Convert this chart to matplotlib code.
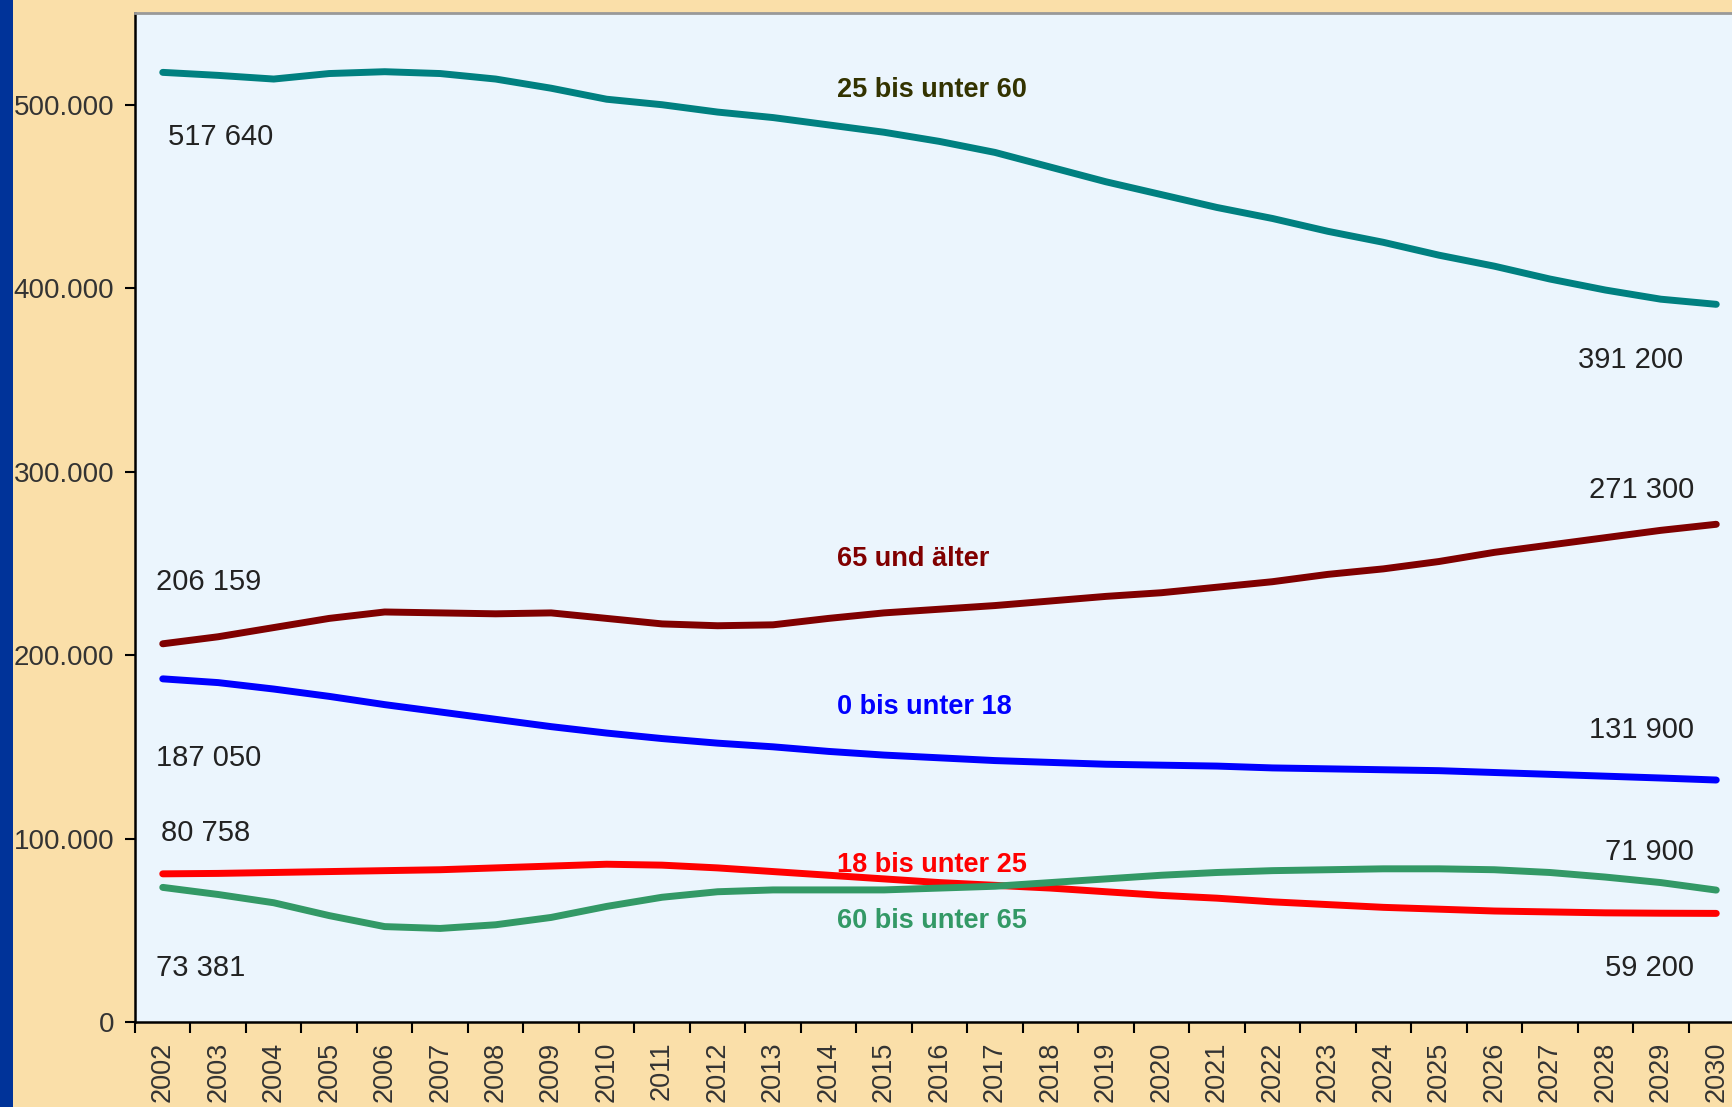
import matplotlib
matplotlib.use("Agg")
import matplotlib.pyplot as plt
from matplotlib.patches import Rectangle
from matplotlib.ticker import FixedLocator, FuncFormatter

plt.rcParams['font.family'] = ['Liberation Sans', 'DejaVu Sans']

years = list(range(2002, 2031))

age_0_18 = [187.05, 185, 181.5, 177.5, 173, 169, 165, 161, 157.5, 154.5, 152, 150,
            147.5, 145.5, 144, 142.5, 141.5, 140.5, 140, 139.5, 138.5, 138, 137.5,
            137, 136, 135, 134, 133, 131.9]
age_18_25 = [80.758, 81, 81.5, 82, 82.5, 83, 84, 85, 86, 85.5, 84, 82, 80, 78, 76,
             74.5, 73, 71, 69, 67.5, 65.5, 64, 62.5, 61.5, 60.5, 60, 59.5, 59.3, 59.2]
age_25_60 = [517.64, 516, 514, 517, 518, 517, 514, 509, 503, 500, 496, 493, 489,
             485, 480, 474, 466, 458, 451, 444, 438, 431, 425, 418, 412, 405, 399,
             394, 391.2]
age_60_65 = [73.381, 69.5, 65, 58, 52, 51, 53, 57, 63, 68, 71, 72, 72, 72, 73, 74,
             76, 78, 80, 81.5, 82.5, 83, 83.5, 83.5, 83, 81.5, 79, 76, 71.9]
age_65 = [206.159, 210, 215, 220, 223.5, 223, 222.5, 223, 220, 217, 216, 216.5, 220,
          223, 225, 227, 229.5, 232, 234, 237, 240, 244, 247, 251, 256, 260, 264,
          268, 271.3]

series_names = ["0 bis unter 18", "18 bis unter 25", "25 bis unter 60",
                "60 bis unter 65", "65 und älter"]
series_values = [age_0_18, age_18_25, age_25_60, age_60_65, age_65]
series_colors = ["#0000FF", "#FF0000", "#008080", "#339966", "#800000"]
name_colors = ["#0000FF", "#FF0000", "#333300", "#339966", "#800000"]
name_pos_y = [171.5, 85.8, 508.3, 55.2, 252.2]

start_labels = ["187 050", "80 758", "517 640", "73 381", "206 159"]
start_label_x = [2001.87, 2001.97, 2002.1, 2001.87, 2001.87]
start_label_y = [143.9, 103.0, 482.2, 29.2, 240.0]
end_labels = ["131 900", "59 200", "391 200", "71 900", "271 300"]
end_label_x = [2029.6, 2029.6, 2029.4, 2029.6, 2029.6]
end_label_y = [159.2, 29.3, 360.6, 92.6, 290.2]

W, H = 1733, 1107
fig = plt.figure(figsize=(W / 100, H / 100), dpi=100)
fig.patch.set_facecolor("#FADFA9")
fig.patches.append(Rectangle((0, 0), 13 / W, 1, transform=fig.transFigure,
                             facecolor="#003399", edgecolor="none", zorder=0))

ax_left = 135 / W
ax_right = 1744 / W
ax_bottom = (H - 1022) / H
ax_top = (H - 13) / H
ax = fig.add_axes([ax_left, ax_bottom, ax_right - ax_left, ax_top - ax_bottom])
ax.set_facecolor("#EBF5FD")

for vals, col in zip(series_values, series_colors):
    ax.plot(years, [v * 1000 for v in vals], color=col, lw=5,
            solid_capstyle="round", solid_joinstyle="round", zorder=3)

ax.set_xlim(2001.5, 2030.5)
ax.set_ylim(0, 550000)

ax.yaxis.set_major_locator(FixedLocator([0, 100000, 200000, 300000, 400000, 500000]))
ax.yaxis.set_major_formatter(FuncFormatter(
    lambda v, p: "0" if v == 0 else f"{int(v/1000)}.000"))
ax.xaxis.set_major_locator(FixedLocator([y - 0.5 for y in years] + [2030.5]))
ax.xaxis.set_major_formatter(FuncFormatter(lambda v, p: ""))
ax.xaxis.set_minor_locator(FixedLocator(years))
ax.xaxis.set_minor_formatter(FuncFormatter(lambda v, p: str(int(round(v)))))

ax.tick_params(axis="y", direction="out", length=7, width=1.5, pad=8,
               labelsize=20, labelcolor="#333333", color="black")
ax.tick_params(axis="x", which="major", direction="out", length=8, width=1.5,
               color="black")
ax.tick_params(axis="x", which="minor", length=0, pad=14, labelsize=19.5,
               labelrotation=90, labelcolor="#333333")
for lbl in ax.xaxis.get_minorticklabels():
    lbl.set_verticalalignment("top")

for side in ["left", "bottom"]:
    ax.spines[side].set_color("black")
    ax.spines[side].set_linewidth(1.8)
ax.spines["top"].set_color("#999999")
ax.spines["top"].set_linewidth(2)
ax.spines["right"].set_visible(False)

for name, col, ny in zip(series_names, name_colors, name_pos_y):
    ax.text(2014.15, ny * 1000, name, color=col, fontsize=19.5, fontweight="bold",
            ha="left", va="center", zorder=4)

for lab, lx, ly in zip(start_labels, start_label_x, start_label_y):
    ax.text(lx, ly * 1000, lab, color="#222222", fontsize=21,
            ha="left", va="center", zorder=4)
for lab, lx, ly in zip(end_labels, end_label_x, end_label_y):
    ax.text(lx, ly * 1000, lab, color="#222222", fontsize=21,
            ha="right", va="center", zorder=4)

fig.savefig("out.png", dpi=100, facecolor=fig.get_facecolor())
